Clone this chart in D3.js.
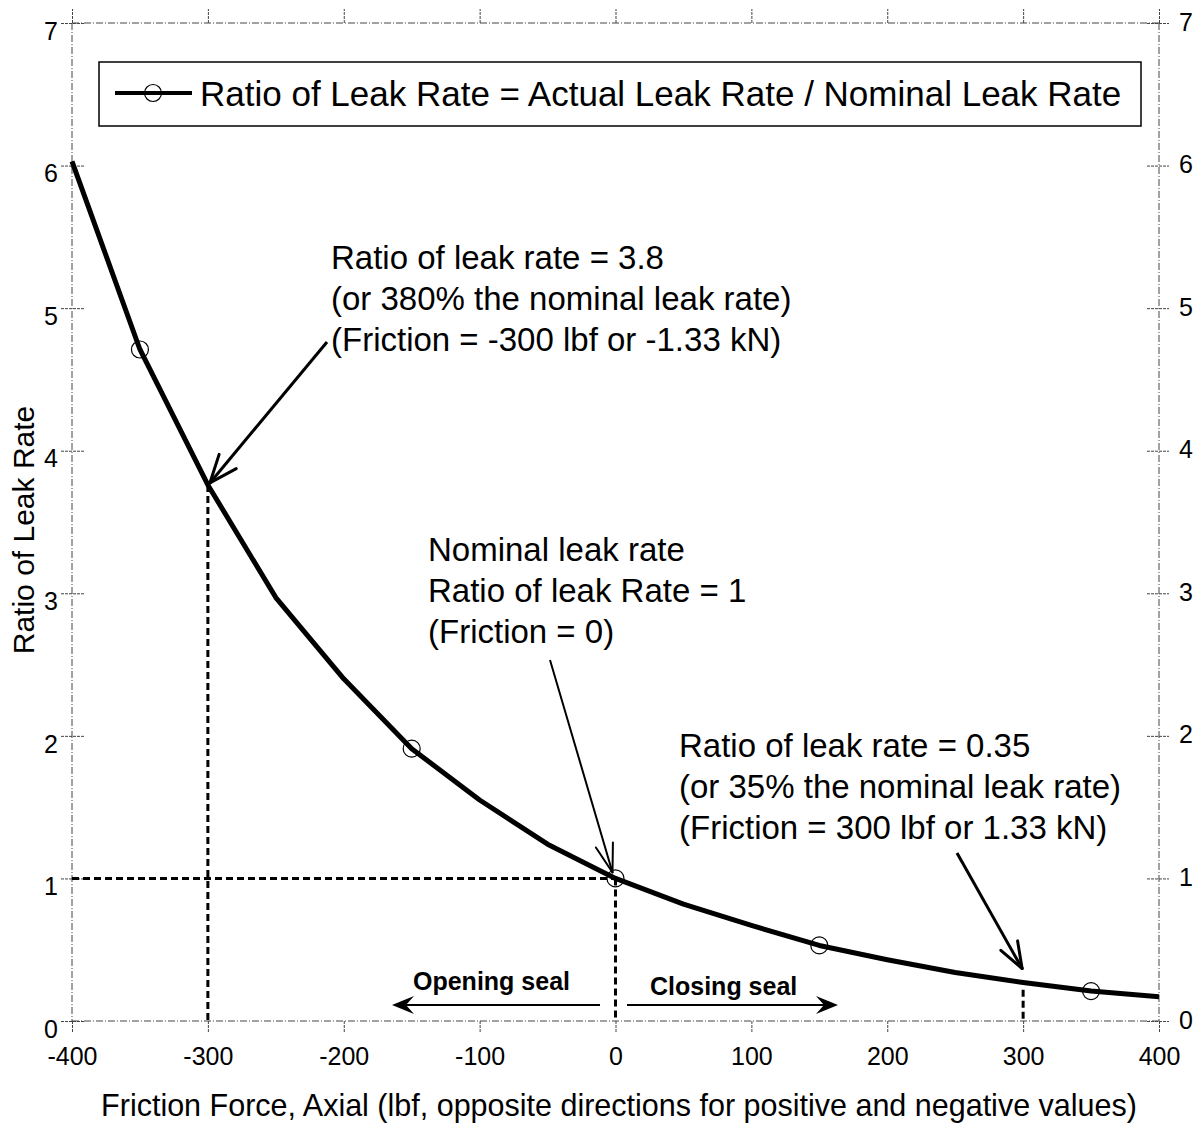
<!DOCTYPE html>
<html><head><meta charset="utf-8">
<script src="https://cdn.jsdelivr.net/npm/d3@7"></script>
<style>
html,body{margin:0;padding:0;background:#fff;}
text{font-family:"Liberation Sans",Arial,sans-serif;fill:#000;}
</style></head>
<body>
<svg id="c" width="1199" height="1131"></svg>
<script>
// ---- data ----
const friction = [-400,-350,-300,-250,-200,-150,-100,-50,0,50,100,150,200,250,300,350,400];
const leakRatio = [6.03,4.71,3.76,2.97,2.40,1.91,1.55,1.24,1.00,0.82,0.67,0.53,0.43,0.34,0.27,0.21,0.17];
const markerFriction = [-350,-150,0,150,350];
const xTicks = [-400,-300,-200,-100,0,100,200,300,400];
const yTicks = [0,1,2,3,4,5,6,7];
const seriesName = "Ratio of Leak Rate = Actual Leak Rate / Nominal Leak Rate";
const xTitle = "Friction Force, Axial (lbf, opposite directions for positive and negative values)";
const yTitle = "Ratio of Leak Rate";
const note1 = ["Ratio of leak rate = 3.8","(or 380% the nominal leak rate)","(Friction = -300 lbf or -1.33 kN)"];
const note2 = ["Nominal leak rate","Ratio of leak Rate = 1","(Friction = 0)"];
const note3 = ["Ratio of leak rate = 0.35","(or 35% the nominal leak rate)","(Friction = 300 lbf or 1.33 kN)"];
const refPoints = [{f:-300,r:3.76},{f:0,r:1.0},{f:300,r:0.22}];

const svg = d3.select("#c");
const x = d3.scaleLinear().domain([-400,400]).range([72,1159]);
const y = d3.scaleLinear().domain([0,7]).range([1021,23]);
const frameStyle = s => s.attr("stroke","#444").attr("stroke-width",1).attr("stroke-dasharray","7,2,1,2").attr("fill","none");
const fmt = d => String(d);

// frame
const [x0,x1] = x.range(), [y0,y1] = y.range();
svg.append("line").attr("x1",x0).attr("x2",x1).attr("y1",y0).attr("y2",y0).call(frameStyle);
svg.append("line").attr("x1",x0).attr("x2",x1).attr("y1",y1).attr("y2",y1).call(frameStyle);
svg.append("line").attr("x1",x0).attr("x2",x0).attr("y1",y1).attr("y2",y0).call(frameStyle);
svg.append("line").attr("x1",x1).attr("x2",x1).attr("y1",y1).attr("y2",y0).call(frameStyle);

// axes
const gBottom = svg.append("g").attr("transform",`translate(0,${y0})`)
  .call(d3.axisBottom(x).tickValues(xTicks).tickSize(12).tickPadding(14).tickFormat(fmt));
const gTop = svg.append("g").attr("transform",`translate(0,${y1})`)
  .call(d3.axisTop(x).tickValues(xTicks).tickSize(14).tickFormat(""));
const gLeft = svg.append("g").attr("transform",`translate(${x0},0)`)
  .call(d3.axisLeft(y).tickValues(yTicks).tickSize(12).tickPadding(14).tickFormat(fmt));
const gRight = svg.append("g").attr("transform",`translate(${x1},0)`)
  .call(d3.axisRight(y).tickValues(yTicks).tickSize(10).tickPadding(10).tickFormat(fmt));
[gBottom,gTop,gLeft,gRight].forEach(g=>{
  g.select(".domain").remove();
  g.selectAll(".tick line").attr("stroke","#444").attr("stroke-width",1).attr("stroke-dasharray","3,1");
  g.selectAll(".tick text").attr("font-size",25).attr("font-family","'Liberation Sans',Arial,sans-serif").attr("fill","#000");
});
gLeft.selectAll(".tick line").attr("x2",-12).attr("x1",12);
gRight.selectAll(".tick line").attr("x1",-12);
gLeft.selectAll(".tick text").attr("dy","0.65em").attr("x",-14);
gRight.selectAll(".tick text").attr("dy","0.28em");
gBottom.selectAll(".tick text").attr("dy","0.71em");

// reference dashed lines
const dashStyle = s => s.attr("stroke","#000").attr("stroke-width",3).attr("stroke-dasharray","7,4").attr("fill","none");
svg.append("line").attr("x1",x(-400)).attr("x2",x(0)).attr("y1",y(1)).attr("y2",y(1)).call(dashStyle);
refPoints.forEach(p=>{
  svg.append("line").attr("x1",x(p.f)).attr("x2",x(p.f)).attr("y1",y(p.r)).attr("y2",y(0)).call(dashStyle);
});

// curve
const data = friction.map((f,i)=>({f, r:leakRatio[i]}));
svg.append("path").datum(data)
  .attr("d", d3.line().x(d=>x(d.f)).y(d=>y(d.r)))
  .attr("fill","none").attr("stroke","#000").attr("stroke-width",5).attr("stroke-linejoin","round");
svg.selectAll("circle.mk").data(data.filter(d=>markerFriction.includes(d.f))).enter()
  .append("circle").attr("class","mk").attr("cx",d=>x(d.f)).attr("cy",d=>y(d.r)).attr("r",8.5)
  .attr("fill","none").attr("stroke","#000").attr("stroke-width",1.2);

// legend
svg.append("rect").attr("x",99).attr("y",62).attr("width",1042).attr("height",64)
  .attr("fill","#fff").attr("stroke","#000").attr("stroke-width",1.5);
svg.append("line").attr("x1",115).attr("x2",192).attr("y1",93).attr("y2",93).attr("stroke","#000").attr("stroke-width",4);
svg.append("circle").attr("cx",153).attr("cy",93).attr("r",8.5).attr("fill","none").attr("stroke","#000").attr("stroke-width",1.2);
svg.append("text").attr("x",200).attr("y",106).attr("font-size",35).text(seriesName);

// axis titles
svg.append("text").attr("x",619).attr("y",1116).attr("text-anchor","middle").attr("font-size",30.5).text(xTitle);
svg.append("text").attr("transform","translate(34,530) rotate(-90)").attr("text-anchor","middle").attr("font-size",30).text(yTitle);

// annotation blocks
function block(lines, bx, by){
  const t = svg.append("text").attr("font-size",33);
  lines.forEach((l,i)=>t.append("tspan").attr("x",bx).attr("y",by+i*41).text(l));
}
block(note1,331,269);
block(note2,428,561);
block(note3,679,757);

// arrows with open heads
function arrow(xs,ys,xt,yt,w,len,ang){
  svg.append("line").attr("x1",xs).attr("y1",ys).attr("x2",xt).attr("y2",yt).attr("stroke","#000").attr("stroke-width",w);
  const a = Math.atan2(ys-yt,xs-xt);
  [ang,-ang].forEach(da=>{
    svg.append("line").attr("x1",xt).attr("y1",yt)
      .attr("x2",xt+len*Math.cos(a+da)).attr("y2",yt+len*Math.sin(a+da))
      .attr("stroke","#000").attr("stroke-width",w).attr("stroke-linecap","round");
  });
}
arrow(327,342,x(-300)+2,y(3.76)-2,3,30,0.38);
arrow(550,660,x(0)-3,y(1.0)-6,2,30,0.3);
arrow(957,853,x(300)-1,y(0.27)-14,3,28,0.35);

// opening / closing seal arrows
function hArrow(xs,xt,yy){
  svg.append("line").attr("x1",xs).attr("x2",xt-(xt>xs?12:-12)).attr("y1",yy).attr("y2",yy).attr("stroke","#000").attr("stroke-width",2);
  const d = xt>xs?1:-1;
  svg.append("path").attr("d",`M${xt},${yy} L${xt-22*d},${yy-9} L${xt-14*d},${yy} L${xt-22*d},${yy+9} Z`).attr("fill","#000");
}
hArrow(600,392,1005);
hArrow(627,838,1005);
svg.append("text").attr("x",413).attr("y",990).attr("font-size",25).attr("font-weight","bold").text("Opening seal");
svg.append("text").attr("x",650).attr("y",995).attr("font-size",25).attr("font-weight","bold").text("Closing seal");
</script>
</body></html>
